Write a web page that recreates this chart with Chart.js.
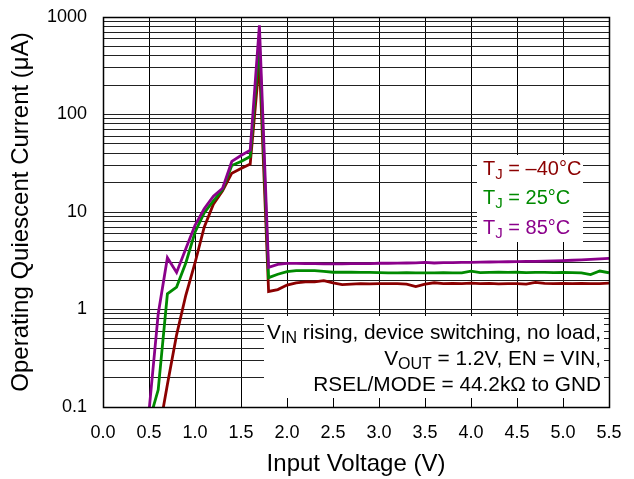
<!DOCTYPE html>
<html>
<head>
<meta charset="utf-8">
<script src="https://cdn.jsdelivr.net/npm/chart.js"></script>
<style>
  html, body { margin: 0; padding: 0; background: #fff; }
</style>
</head>
<body>
<canvas id="iqChart" width="634" height="479"></canvas>
<script>
// ===== DATA =====
const voltage = [0.5, 0.6, 0.7, 0.8, 0.9, 1.0, 1.1, 1.2, 1.3, 1.4, 1.5, 1.6, 1.7, 1.8, 1.9,
  2.0, 2.1, 2.2, 2.3, 2.4, 2.5, 2.6, 2.7, 2.8, 2.9, 3.0, 3.1, 3.2, 3.3, 3.4, 3.5, 3.6, 3.7,
  3.8, 3.9, 4.0, 4.1, 4.2, 4.3, 4.4, 4.5, 4.6, 4.7, 4.8, 4.9, 5.0, 5.1, 5.2, 5.3, 5.4, 5.5];

const iqMinus40 = [0.03, 0.05, 0.17, 0.55, 1.4, 3.0, 7.0, 12, 16.5, 25, 28, 31, 350, 1.53, 1.6,
  1.78, 1.88, 1.92, 1.92, 1.98, 1.88, 1.80, 1.82, 1.84, 1.83, 1.84, 1.84, 1.84, 1.82, 1.72, 1.82, 1.88, 1.84,
  1.85, 1.84, 1.86, 1.84, 1.85, 1.83, 1.84, 1.84, 1.82, 1.90, 1.85, 1.84, 1.85, 1.84, 1.85, 1.84, 1.84, 1.86];

const iq25 = [0.07, 0.15, 1.45, 1.7, 3.0, 6.2, 9.8, 13, 17, 30, 33, 37, 550, 2.12, 2.3,
  2.45, 2.5, 2.5, 2.5, 2.46, 2.41, 2.42, 2.41, 2.40, 2.40, 2.39, 2.38, 2.38, 2.39, 2.38, 2.38, 2.38, 2.39,
  2.38, 2.38, 2.47, 2.39, 2.40, 2.41, 2.40, 2.41, 2.39, 2.40, 2.40, 2.39, 2.40, 2.39, 2.38, 2.28, 2.48, 2.38];

const iq85 = [0.09, 0.9, 3.4, 2.4, 4.2, 7.3, 10.8, 14.5, 17.5, 33, 38, 43, 820, 2.7, 2.9,
  2.97, 2.97, 2.96, 2.95, 2.94, 2.94, 2.94, 2.95, 2.95, 2.96, 2.98, 2.98, 2.99, 3.00, 3.01, 3.04, 3.00, 3.02,
  3.03, 3.04, 3.05, 3.06, 3.07, 3.08, 3.09, 3.10, 3.11, 3.12, 3.13, 3.15, 3.17, 3.20, 3.23, 3.27, 3.31, 3.35];

const yDecades = [0.1, 1, 10, 100, 1000];
const minorSteps = [2, 3, 4, 5, 6, 7, 8, 9];

const legendLabels = ["\u201340\u00b0C", "25\u00b0C", "85\u00b0C"];
const seriesColors = ["#8b0000", "#008a00", "#8b008b"];

const FONT = "'Liberation Sans', Arial, sans-serif";

// log grid: every 1..9 per decade
const yGrid = [];
yDecades.forEach((d, i) => {
  yGrid.push(d);
  if (i < yDecades.length - 1) minorSteps.forEach(m => yGrid.push(Number((d * m).toPrecision(3))));
});

function toPoints(values) {
  return voltage.map((v, i) => ({ x: v, y: values[i] }));
}

// text with subscripts, parts = [[text, isSub], ...]
function drawRich(ctx, parts, x, y, size, align) {
  const subSize = Math.round(size * 0.75);
  const widths = parts.map(p => {
    ctx.font = `${p[1] ? subSize : size}px ${FONT}`;
    return ctx.measureText(p[0]).width;
  });
  const total = widths.reduce((a, b) => a + b, 0);
  let cx = align === "right" ? x - total : x;
  parts.forEach((p, i) => {
    ctx.font = `${p[1] ? subSize : size}px ${FONT}`;
    ctx.fillText(p[0], cx, p[1] ? y + size * 0.28 : y);
    cx += widths[i];
  });
}

// ===== OVERLAYS (legend box, conditions box, frame) =====
const overlays = {
  id: "overlays",
  beforeDatasetsDraw(chart) {
    const ctx = chart.ctx;
    ctx.save();
    ctx.fillStyle = "#fff";
    ctx.fillRect(477, 155, 106, 87);
    ctx.fillRect(264, 316, 340, 82);
    ctx.restore();
  },
  afterDatasetsDraw(chart) {
    const ctx = chart.ctx;
    ctx.save();
    ctx.textBaseline = "middle";
    legendLabels.forEach((lbl, i) => {
      ctx.fillStyle = seriesColors[i];
      drawRich(ctx, [["T", false], ["J", true], [" = " + lbl, false]], 483, 169 + i * 29.5, 20, "left");
    });
    ctx.fillStyle = "#000";
    drawRich(ctx, [["V", false], ["IN", true], [" rising, device switching, no load,", false]], 601, 333, 20.8, "right");
    drawRich(ctx, [["V", false], ["OUT", true], [" = 1.2V, EN = VIN,", false]], 601, 359, 20.8, "right");
    drawRich(ctx, [["RSEL/MODE = 44.2k\u03a9 to GND", false]], 601, 385, 20.8, "right");
    const a = chart.chartArea;
    ctx.strokeStyle = "#000";
    ctx.lineWidth = 1.5;
    ctx.strokeRect(Math.round(a.left) + 0.5, Math.round(a.top) + 0.5,
      Math.round(a.right - a.left), Math.round(a.bottom - a.top));
    ctx.restore();
  }
};

// ===== CHART =====
const series = [iqMinus40, iq25, iq85];
new Chart(document.getElementById("iqChart"), {
  type: "line",
  data: {
    datasets: series.map((vals, i) => ({
      label: "TJ = " + legendLabels[i],
      data: toPoints(vals),
      borderColor: seriesColors[i],
      borderWidth: 2.8,
      pointRadius: 0,
      tension: 0,
      fill: false,
      order: 2 - i
    }))
  },
  options: {
    responsive: false,
    animation: false,
    layout: { padding: { left: 0, top: 17, right: 25, bottom: 0 } },
    plugins: {
      legend: { display: false },
      tooltip: { enabled: false }
    },
    scales: {
      x: {
        type: "linear",
        min: 0,
        max: 5.5,
        afterFit: s => { s.height = 72; s.paddingLeft = 0; s.paddingRight = 0; },
        ticks: {
          stepSize: 0.5,
          autoSkip: false,
          maxRotation: 0,
          padding: 15,
          color: "#000",
          font: { family: FONT, size: 18 },
          callback: v => v.toFixed(1)
        },
        grid: { color: "#000", lineWidth: 1, drawTicks: false },
        border: { color: "#000", width: 1 },
        title: {
          display: true,
          text: "Input Voltage (V)",
          color: "#000",
          font: { family: FONT, size: 24 },
          padding: { top: 0, bottom: 0 }
        }
      },
      y: {
        type: "logarithmic",
        min: 0.1,
        max: 1000,
        afterFit: s => { s.width = 103; s.paddingTop = 0; s.paddingBottom = 0; },
        afterBuildTicks: s => { s.ticks = yGrid.map(v => ({ value: v })); },
        ticks: {
          autoSkip: false,
          padding: 16,
          color: "#000",
          font: { family: FONT, size: 18 },
          callback: v => (yDecades.some(d => Math.abs(d - v) < 1e-9) ? String(v) : "")
        },
        grid: { color: "#222", lineWidth: 1, drawTicks: false },
        border: { color: "#000", width: 1 },
        title: {
          display: true,
          text: "Operating Quiescent Current (\u03bcA)",
          color: "#000",
          font: { family: FONT, size: 24 },
          padding: { top: 7, bottom: 0 }
        }
      }
    }
  },
  plugins: [overlays]
});
</script>
</body>
</html>
